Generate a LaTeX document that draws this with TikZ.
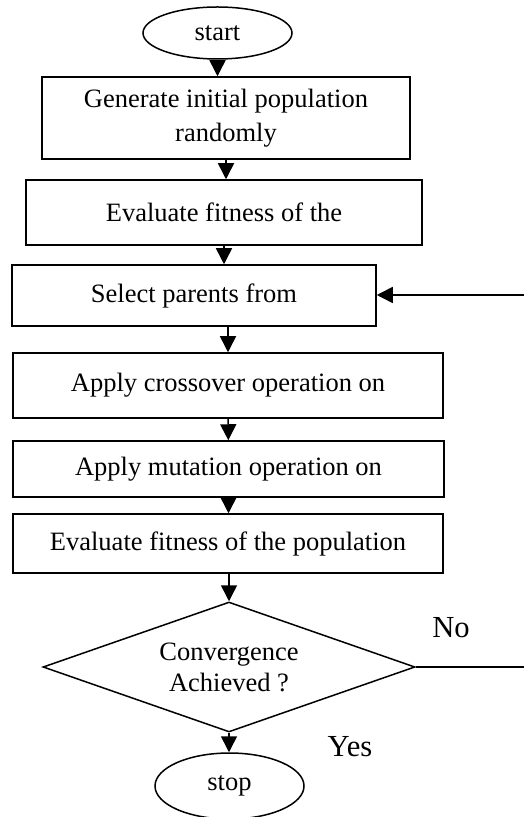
\documentclass[tikz,border=0pt]{standalone}
\usepackage{fontspec}
\setmainfont{Liberation Serif}
\usetikzlibrary{shapes.geometric}
\usetikzlibrary{arrows.meta}
\tikzset{>={Triangle[width=8pt,length=8pt]}}
\tikzset{process/.style = {shape=rectangle, draw, line width=0.75pt,
align=center, inner sep=2pt, font=\fontsize{13.25}{17}\selectfont}}
\tikzset{terminal/.style = {shape=ellipse, draw, line width=0.75pt,
minimum width=74.5pt, inner sep=0pt, font=\fontsize{13.25}{17}\selectfont}}
\tikzset{decision/.style = {shape=diamond, draw, line width=0.75pt, aspect=2.86,
align=center, inner sep=0pt, font=\fontsize{13.25}{15.5}\selectfont}}
\tikzset{answer/.style = {inner sep=0pt, font=\fontsize{15.3}{18}\selectfont}}

\begin{document}
\begin{tikzpicture}[x=0.5pt, y=-0.5pt, line width=0.75pt]
                \useasboundingbox (0,0) rectangle (524,817);

                \node[terminal, minimum height=26pt] (start) at (217.5,33) {start};
                \node[process, minimum width=184pt, minimum height=41pt] (init) at (226,118) {Generate initial population\\randomly};
                \node[process, minimum width=198pt, minimum height=32.5pt] (evalA) at (224,212.5) {Evaluate fitness of the};
                \node[process, minimum width=182pt, minimum height=30.5pt] (select) at (194,295.5) {Select parents from};
                \node[process, minimum width=215pt, minimum height=32.5pt] (cross) at (228,385.5) {Apply crossover operation on};
                \node[process, minimum width=215.5pt, minimum height=28pt] (mutate) at (228.5,469) {Apply mutation operation on};
                \node[process, minimum width=215pt, minimum height=29.5pt] (evalB) at (228,543.5) {Evaluate fitness of the population};
                \node[decision, minimum width=186pt, minimum height=65pt] (conv) at (229,667) {Convergence\\Achieved ?};
                \node[terminal, minimum height=33pt] (stop) at (229.5,786) {stop};

                \node[answer] (no) at (451,627.5) {No};
                \node[answer] (yes) at (350,747) {Yes};

                \coordinate (noend) at (524,667);
                \coordinate (back) at (524,295);

                \draw[->] (start.south) to (start.south |- init.north);
                \draw[->] (init.south) to (init.south |- evalA.north);
                \draw[->] (evalA.south) to (evalA.south |- select.north);
                \draw[->] (cross.north |- select.south) to (cross.north);
                \draw[->] (cross) to (mutate);
                \draw[->] (mutate.south) to (mutate.south |- evalB.north);
                \draw[->] (evalB.south -| conv.north) to (conv.north);
                \draw[->] (conv.south) to (conv.south |- stop.north);

                \draw (conv.east) to (noend);
                \draw[->] (back) to (select.east |- back);
            \end{tikzpicture}
\end{document}
